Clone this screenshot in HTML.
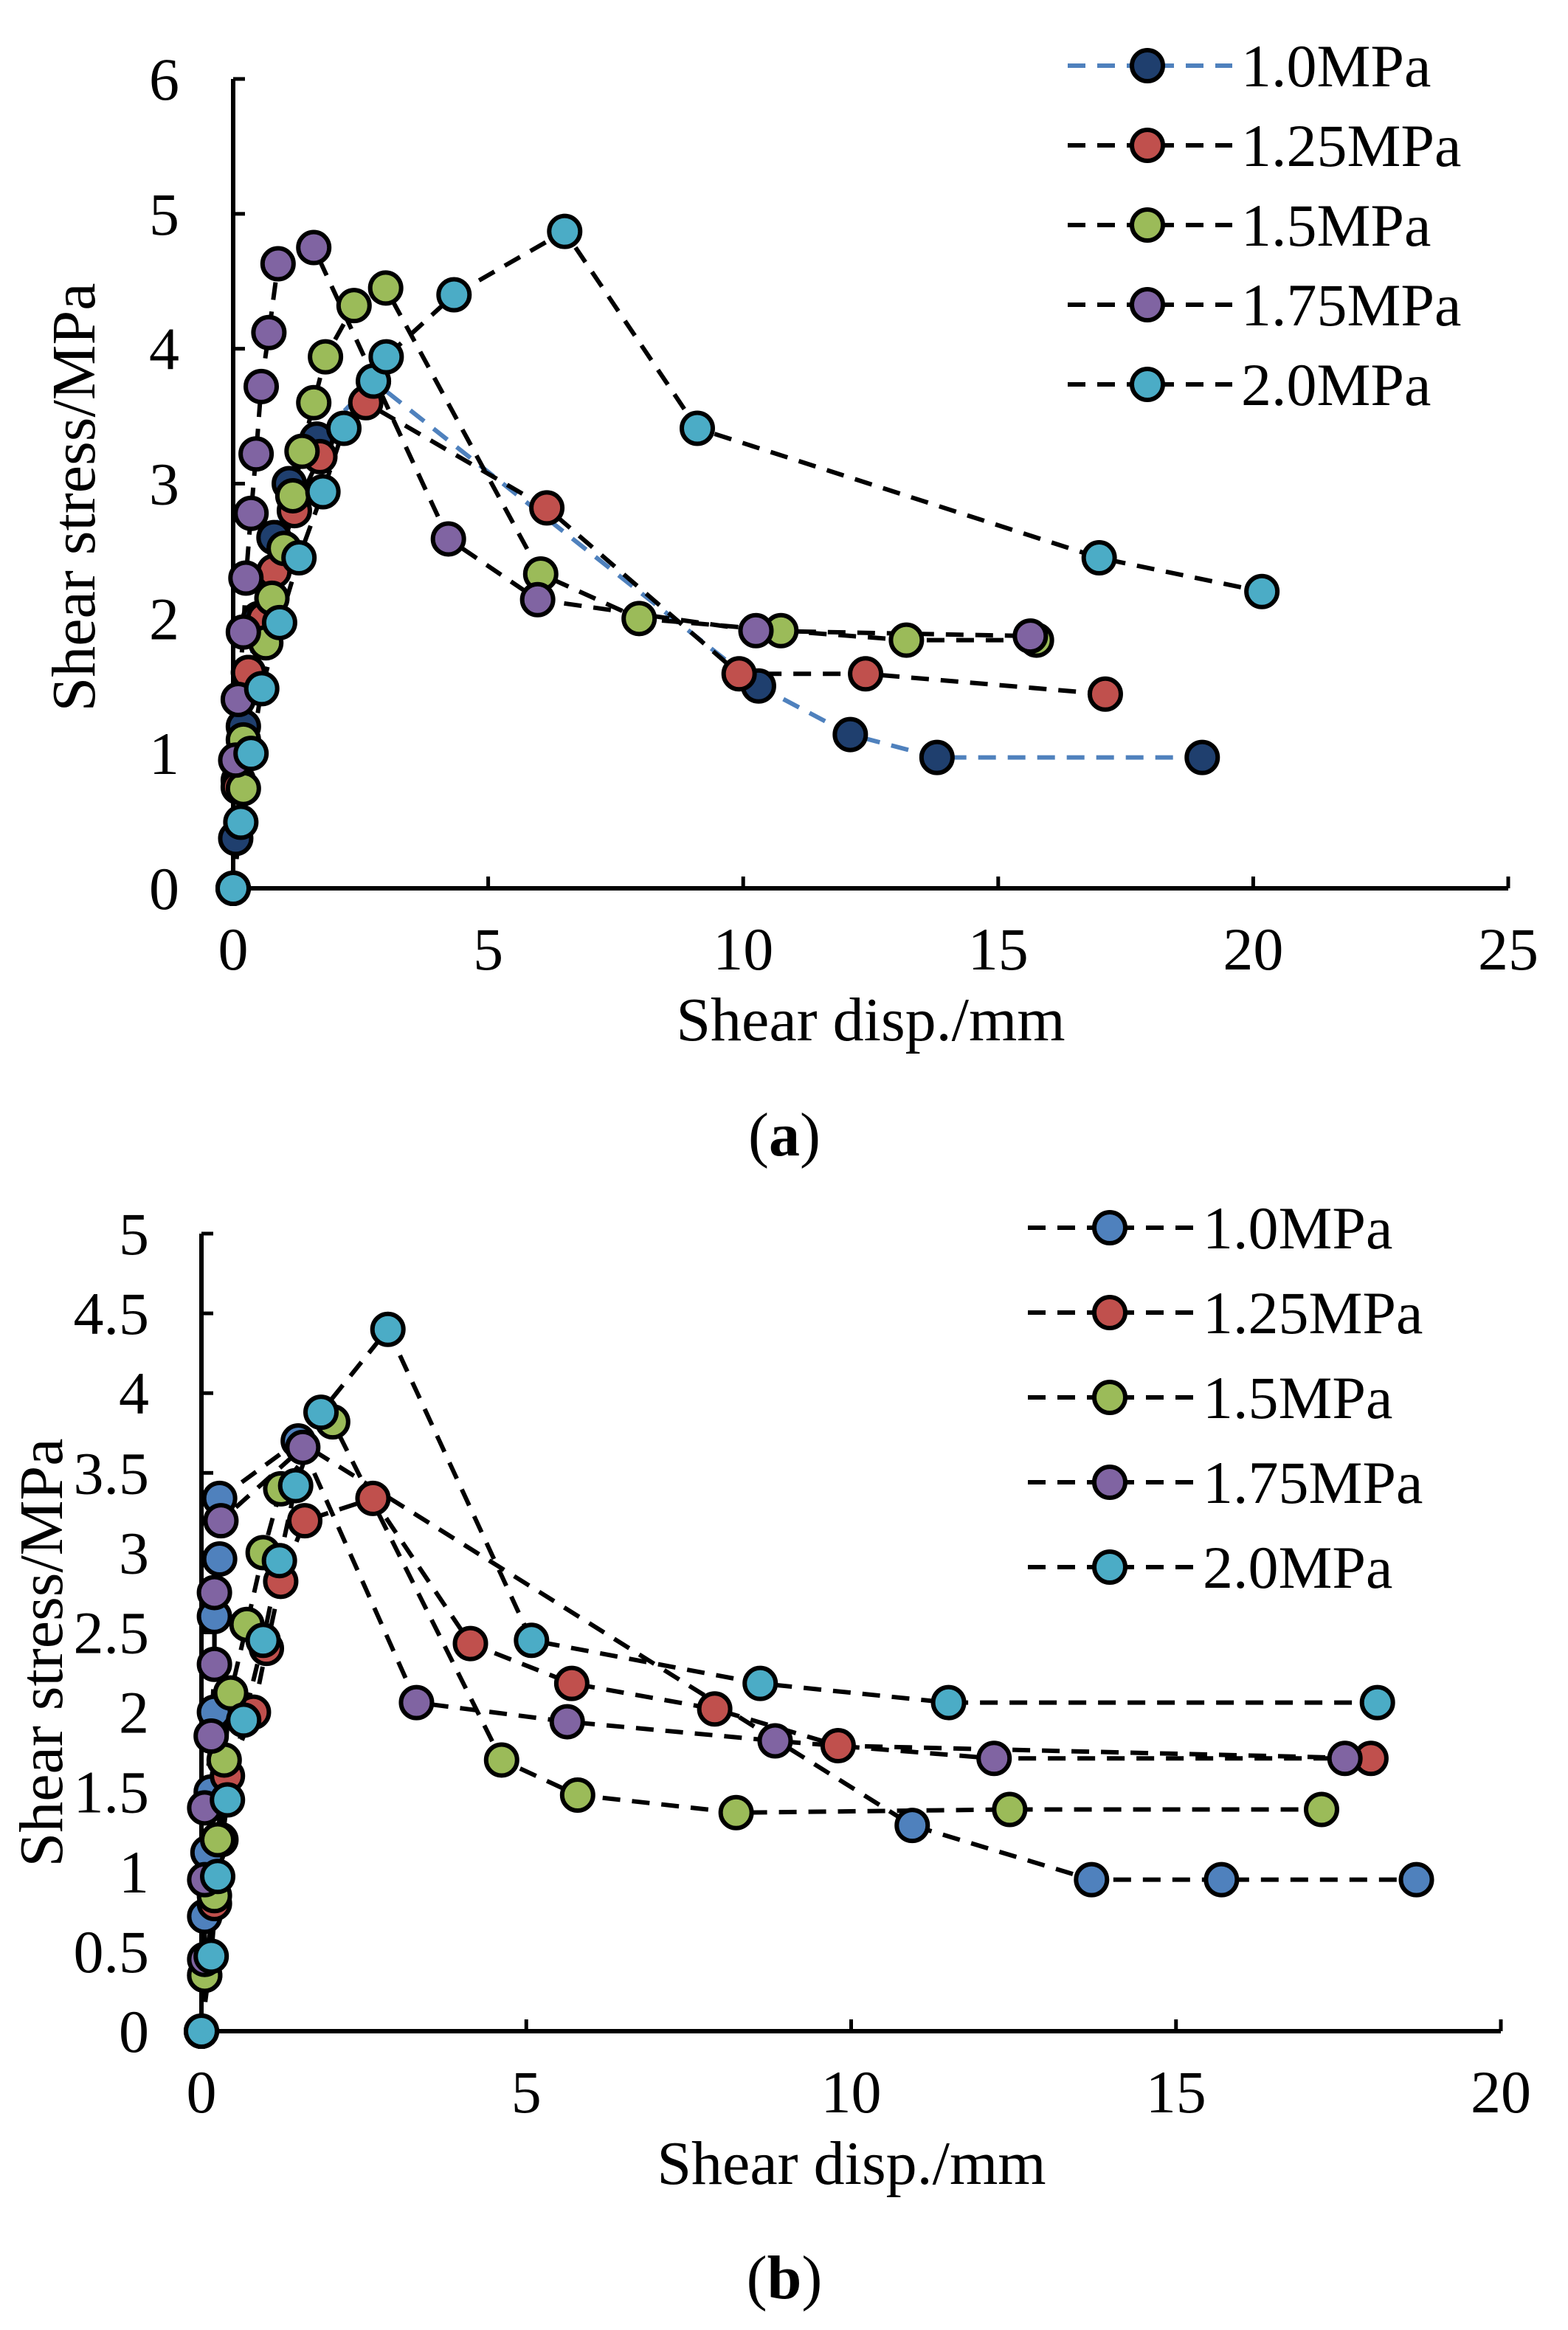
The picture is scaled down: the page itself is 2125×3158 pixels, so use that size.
<!DOCTYPE html>
<html><head><meta charset="utf-8"><style>
html,body{margin:0;padding:0;background:#fff;}
svg{display:block;font-family:"Liberation Serif",serif;}
</style></head><body>
<svg id="svg" width="2125" height="3158" viewBox="0 0 2125 3158" xmlns="http://www.w3.org/2000/svg"></svg>
<script>
// ---- Chart (a) data ----
const seriesNames = ["1.0MPa","1.25MPa","1.5MPa","1.75MPa","2.0MPa"];
const fills = ["#1f3f6e","#c0504d","#9bbb59","#8064a2","#4bacc6"];
const aXTicks = [0,5,10,15,20,25];
const aYTicks = [0,1,2,3,4,5,6];
const a10x = [0,0.05,0.1,0.2,0.3,0.5,0.8,1.1,1.64,2.75,10.3,12.1,13.8,19.0];
const a10y = [0,0.37,0.8,1.2,1.6,2.0,2.6,3.0,3.33,3.76,1.5,1.14,0.97,0.97];
const a125x = [0,0.1,0.3,0.6,0.8,1.2,1.7,2.6,6.15,9.92,12.4,17.1];
const a125y = [0,0.75,1.6,2.0,2.35,2.8,3.2,3.6,2.82,1.59,1.59,1.44];
const a15x = [0,0.2,0.2,0.64,0.76,1.0,1.17,1.35,1.58,1.81,2.37,2.99,6.03,7.96,10.74,13.2,15.75];
const a15y = [0,0.74,1.1,1.82,2.15,2.52,2.91,3.24,3.6,3.94,4.32,4.45,2.33,2.0,1.91,1.84,1.84];
const a175x = [0,0.05,0.1,0.2,0.25,0.35,0.45,0.55,0.7,0.88,1.58,4.22,5.97,10.25,15.63];
const a175y = [0,0.95,1.4,1.9,2.3,2.78,3.22,3.72,4.12,4.63,4.75,2.59,2.14,1.91,1.87];
const a20x = [0,0.15,0.35,0.56,0.91,1.29,1.76,2.17,2.75,3.0,4.33,6.5,9.1,16.98,20.17];
const a20y = [0,0.49,1.0,1.48,1.97,2.45,2.94,3.41,3.76,3.94,4.4,4.87,3.41,2.45,2.2];
// ---- Chart (b) data ----
const bXTicks = [0,5,10,15,20];
const bYTicks = [0,0.5,1,1.5,2,2.5,3,3.5,4,4.5,5];
const b10x = [0,0.05,0.05,0.1,0.15,0.2,0.2,0.28,0.28,1.49,10.94,13.7,15.7,18.7];
const b10y = [0,0.35,0.72,1.12,1.5,2.0,2.6,2.96,3.34,3.7,1.29,0.95,0.95,0.95];
const b125x = [0,0.1,0.2,0.3,0.4,0.8,1.0,1.22,1.59,2.64,4.14,5.7,7.9,9.8,18.0];
const b125y = [0,0.45,0.8,1.2,1.6,2.0,2.4,2.82,3.2,3.34,2.43,2.18,2.02,1.79,1.71];
const b15x = [0,0.05,0.2,0.25,0.35,0.45,0.7,0.95,1.22,2.02,4.62,5.79,8.23,12.44,17.24];
const b15y = [0,0.35,0.85,1.2,1.7,2.12,2.55,3.0,3.4,3.82,1.7,1.48,1.37,1.39,1.39];
const b175x = [0,0.05,0.05,0.05,0.15,0.2,0.2,0.3,1.56,3.31,5.63,8.83,12.2,17.6];
const b175y = [0,0.45,0.95,1.4,1.85,2.3,2.75,3.2,3.66,2.06,1.94,1.82,1.71,1.71];
const b20x = [0,0.15,0.25,0.4,0.65,0.95,1.2,1.45,1.84,2.87,5.08,8.6,11.5,18.1];
const b20y = [0,0.47,0.97,1.45,1.95,2.45,2.95,3.42,3.88,4.4,2.45,2.18,2.06,2.06];

const NS="http://www.w3.org/2000/svg";
const svg=document.getElementById('svg');
function mk(tag,attrs,parent){const e=document.createElementNS(NS,tag);for(const k in attrs)e.setAttribute(k,attrs[k]);(parent||svg).appendChild(e);return e;}

function chart(cfg){
  const g=mk('g',{});
  
  
  const sx=v=>cfg.x0+(v-cfg.xmin)/(cfg.xmax-cfg.xmin)*(cfg.x1-cfg.x0);
  const sy=v=>cfg.y0-(v-cfg.ymin)/(cfg.ymax-cfg.ymin)*(cfg.y0-cfg.y1);
  const xa=mk('line',{x1:cfg.x0,y1:cfg.y0,x2:cfg.x1,y2:cfg.y0,stroke:'#000','stroke-width':6},g);
  
  
  const ya=mk('line',{x1:cfg.x0,y1:cfg.y0,x2:cfg.x0,y2:cfg.y1,stroke:'#000','stroke-width':6},g);
  
  
  cfg.xt.forEach(v=>{
    mk('line',{x1:sx(v),y1:cfg.y0,x2:sx(v),y2:cfg.y0-16,stroke:'#000','stroke-width':5},g);
    const t=mk('text',{x:sx(v),y:cfg.y0+110,'font-size':82,'text-anchor':'middle',fill:'#000'},g);
    t.textContent=v;
    
    
  });
  cfg.yt.forEach(v=>{
    mk('line',{x1:cfg.x0,y1:sy(v),x2:cfg.x0+16,y2:sy(v),stroke:'#000','stroke-width':5},g);
    const t=mk('text',{x:cfg.ylx,y:sy(v)+28,'font-size':82,'text-anchor':'end',fill:'#000'},g);
    t.textContent=v;
    
    
  });
  const xt=mk('text',{x:cfg.xtx,y:cfg.xty,'font-size':84,'text-anchor':'middle',fill:'#000'},g);
  xt.textContent='Shear disp./mm';
  
  
  const yt=mk('text',{x:0,y:0,'font-size':84,'text-anchor':'middle',fill:'#000',transform:`translate(${cfg.ytx},${cfg.yty}) rotate(-90)`},g);
  yt.textContent='Shear stress/MPa';
  
  
  cfg.series.forEach((s,i)=>{
    const pts=s[0].map((x,j)=>sx(x)+','+sy(s[1][j])).join(' ');
    const pl=mk('polyline',{points:pts,fill:'none',stroke:cfg.lineColors[i],'stroke-width':6,'stroke-dasharray':'24,16'},g);
    
    
  });
  cfg.series.forEach((s,i)=>{
    s[0].forEach((x,j)=>{
      const c=mk('circle',{cx:sx(x),cy:sy(s[1][j]),r:21,fill:cfg.fills[i],stroke:'#000','stroke-width':6},g);
      
      
    });
  });
  seriesNames.forEach((n,i)=>{
    const y=cfg.legY+i*cfg.legDy;
    const lg=mk('g',{},g);
    
    
    mk('line',{x1:cfg.legX0,y1:y,x2:cfg.legX1,y2:y,stroke:cfg.lineColors[i],'stroke-width':6,'stroke-dasharray':'24,16'},lg);
    mk('circle',{cx:cfg.legM,cy:y,r:21,fill:cfg.fills[i],stroke:'#000','stroke-width':6},lg);
    const t=mk('text',{x:cfg.legT,y:y+28,'font-size':82,fill:'#000'},lg);
    t.textContent=n;
  });
  const cap=mk('text',{x:1063,y:cfg.capY,'font-size':84,'text-anchor':'middle',fill:'#000'},g);
  cap.innerHTML='(<tspan font-weight="bold">'+cfg.cap+'</tspan>)';
  
  
}

chart({name:'chart-a',x0:316,x1:2044,y0:1204,y1:107,xmin:0,xmax:25,ymin:0,ymax:6,
  xt:aXTicks,yt:aYTicks,ylx:243,xtx:1180,xty:1410,ytx:128,yty:674,
  series:[[a10x,a10y],[a125x,a125y],[a15x,a15y],[a175x,a175y],[a20x,a20y]],
  fills:fills,lineColors:["#4f81bd","#000","#000","#000","#000"],
  legY:89,legDy:108,legX0:1447,legX1:1670,legM:1555,legT:1682,capY:1566,cap:'a'});
chart({name:'chart-b',x0:273,x1:2034,y0:2753,y1:1672,xmin:0,xmax:20,ymin:0,ymax:5,
  xt:bXTicks,yt:bYTicks,ylx:202,xtx:1154,xty:2960,ytx:84,yty:2240,
  series:[[b10x,b10y],[b125x,b125y],[b15x,b15y],[b175x,b175y],[b20x,b20y]],
  fills:["#4f81bd","#c0504d","#9bbb59","#8064a2","#4bacc6"],lineColors:["#000","#000","#000","#000","#000"],
  legY:1664,legDy:115,legX0:1393,legX1:1620,legM:1504,legT:1630,capY:3115,cap:'b'});
</script>
</body></html>
